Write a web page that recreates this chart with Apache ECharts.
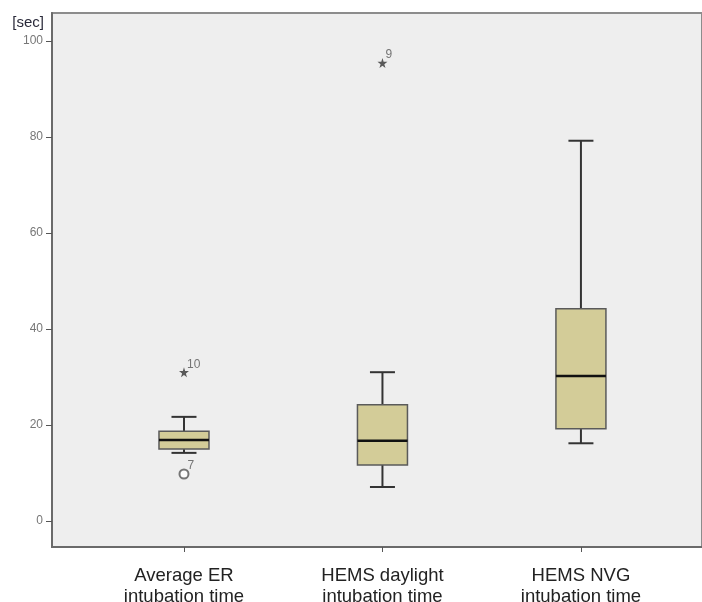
<!DOCTYPE html>
<html>
<head>
<meta charset="utf-8">
<script src="https://cdn.jsdelivr.net/npm/echarts@6/dist/echarts.min.js"></script>
<style>
  html, body { margin: 0; padding: 0; background: #fff; }
  #chart { width: 702px; height: 602px; }
</style>
</head>
<body>
<div id="chart"></div>
<script>
// values
const categories = ['Average ER\nintubation time', 'HEMS daylight\nintubation time', 'HEMS NVG\nintubation time'];
const whiskerLow = [14.2, 7.1, 16.2];
const q1 = [15.0, 11.7, 19.2];
const median = [16.9, 16.7, 30.2];
const q3 = [18.7, 24.2, 44.2];
const whiskerHigh = [21.7, 31.0, 79.2];
// [category position, value, case label]
const extremes = [[1, 31.0, '10'], [2, 95.4, '9']];
const outliers = [[1, 9.8, '7']];
const yTicks = [0, 20, 40, 60, 80, 100];
const xTicks = [1, 2, 3];

const boxData = categories.map((c, i) => [i + 1, whiskerLow[i], q1[i], median[i], q3[i], whiskerHigh[i]]);

const starPath = 'path://M50,0 L61,35 L98,35 L68,57 L79,91 L50,70 L21,91 L32,57 L2,35 L39,35 Z';

function renderBox(params, api) {
  const x = api.value(0);
  const pLow = api.coord([x, api.value(1)]);
  const pQ1 = api.coord([x, api.value(2)]);
  const pMed = api.coord([x, api.value(3)]);
  const pQ3 = api.coord([x, api.value(4)]);
  const pHigh = api.coord([x, api.value(5)]);
  const cx = pMed[0];
  const half = 25, cap = 12.5;
  const whisker = { stroke: '#333', lineWidth: 2 };
  return {
    type: 'group',
    children: [
      { type: 'line', shape: { x1: cx, y1: pQ3[1], x2: cx, y2: pHigh[1] }, style: whisker },
      { type: 'line', shape: { x1: cx, y1: pQ1[1], x2: cx, y2: pLow[1] }, style: whisker },
      { type: 'line', shape: { x1: cx - cap, y1: pHigh[1], x2: cx + cap, y2: pHigh[1] }, style: whisker },
      { type: 'line', shape: { x1: cx - cap, y1: pLow[1], x2: cx + cap, y2: pLow[1] }, style: whisker },
      {
        type: 'rect',
        shape: { x: cx - half, y: pQ3[1], width: half * 2, height: pQ1[1] - pQ3[1] },
        style: { fill: '#d3cc98', stroke: '#5a5a5a', lineWidth: 1.5 }
      },
      { type: 'line', shape: { x1: cx - half, y1: pMed[1], x2: cx + half, y2: pMed[1] }, style: { stroke: '#111', lineWidth: 2.5 } }
    ]
  };
}

const outlierLabel = {
  show: true,
  position: 'right',
  distance: 1,
  offset: [-3, -8],
  color: '#555',
  fontSize: 12,
  fontFamily: 'Liberation Sans, Arial, sans-serif',
  formatter: p => p.value[2]
};

const option = {
  animation: false,
  grid: {
    left: 52, top: 13, right: 0, bottom: 55,
    outerBoundsMode: 'none',
    containLabel: false,
    show: true,
    backgroundColor: '#eeeeee',
    borderColor: '#8c8c8c',
    borderWidth: 2
  },
  xAxis: {
    type: 'value',
    min: 0.335,
    max: 3.61,
    splitLine: { show: false },
    axisLine: { show: true, onZero: false, lineStyle: { color: '#6a6a6a', width: 2 } },
    axisTick: { show: true, length: 5, customValues: xTicks, lineStyle: { color: '#555' } },
    axisLabel: {
      customValues: xTicks,
      formatter: v => categories[v - 1],
      margin: 18,
      color: '#222',
      fontSize: 18.5,
      lineHeight: 21,
      fontFamily: 'Liberation Sans, Arial, sans-serif'
    }
  },
  yAxis: {
    type: 'value',
    min: -5.4,
    max: 105.8,
    name: '[sec]',
    nameLocation: 'end',
    nameGap: -2,
    nameTextStyle: {
      align: 'right',
      verticalAlign: 'top',
      padding: [0, 8, 0, 0],
      color: '#2a2a3a',
      fontSize: 15,
      fontFamily: 'Liberation Sans, Arial, sans-serif'
    },
    splitLine: { show: false },
    axisLine: { show: true, onZero: false, lineStyle: { color: '#6a6a6a', width: 2 } },
    axisTick: { show: true, length: 6, customValues: yTicks, lineStyle: { color: '#555' } },
    axisLabel: {
      customValues: yTicks,
      margin: 9,
      color: '#777',
      fontSize: 12,
      fontFamily: 'Liberation Sans, Arial, sans-serif'
    }
  },
  series: [
    {
      type: 'custom',
      renderItem: renderBox,
      encode: { x: 0, y: [1, 2, 3, 4, 5] },
      data: boxData
    },
    {
      type: 'scatter',
      symbol: starPath,
      symbolSize: 10,
      itemStyle: { color: '#333' },
      label: outlierLabel,
      data: extremes
    },
    {
      type: 'scatter',
      symbol: 'emptyCircle',
      symbolSize: 9,
      itemStyle: { color: '#555', borderWidth: 1.3 },
      label: outlierLabel,
      data: outliers
    }
  ]
};

const chart = echarts.init(document.getElementById('chart'));
chart.setOption(option);
</script>
</body>
</html>
